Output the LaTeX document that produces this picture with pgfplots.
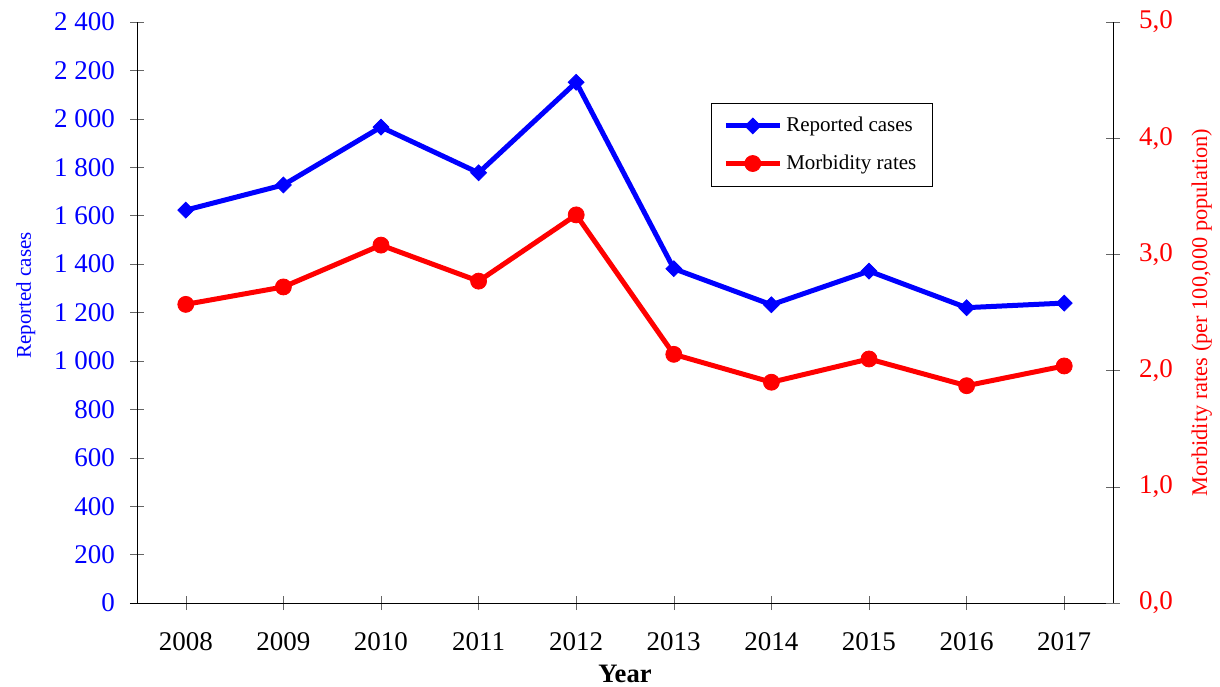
\documentclass[border=0pt]{standalone}
\usepackage{fontspec}
\setmainfont{Liberation Serif}
\usepackage{pgfplots}
\pgfplotsset{compat=1.18}

\definecolor{pblue}{RGB}{0,0,255}
\definecolor{pred}{RGB}{255,0,0}

\pgfplotstableread{
year cases rate
2008 1623 2.57
2009 1727 2.72
2010 1966 3.08
2011 1777 2.77
2012 2151 3.34
2013 1381 2.14
2014 1232 1.90
2015 1371 2.10
2016 1220 1.87
2017 1239 2.04
}\datatable

\begin{document}
\begin{tikzpicture}
\useasboundingbox (-68.5pt,-41.5pt) rectangle (541.5pt,301.5pt);
\begin{axis}[
    at={(0,0)}, anchor=south west,
    scale only axis,
    width=488pt, height=290.5pt,
    xmin=2007.5, xmax=2017.5,
    ymin=0, ymax=2400,
    xtick={2008,...,2017},
    ytick={0,200,...,2400},
    axis x line*=bottom,
    axis y line*=left,
    x axis line style={-, shorten <=-3.5pt, shorten >=-3.5pt},
    y axis line style={-},
    tick align=center,
    major tick length=7pt,
    tick style={black!60},
    minor tick num=0,
    /pgf/number format/assume math mode=true,
    /pgf/number format/1000 sep={\ },
    xticklabel={\pgfmathprintnumber[1000 sep={}]{\tick}},
    tick label style={font=\fontsize{13.5}{16}\selectfont},
    yticklabel style={pblue, xshift=-4pt},
    xticklabel style={yshift=-7.5pt},
    ylabel={Reported cases},
    ylabel style={pblue, font=\fontsize{10.5}{12}\selectfont, xshift=8.5pt, yshift=2.5pt},
    xlabel={Year},
    xlabel style={font=\fontsize{13.3}{15}\selectfont\bfseries, yshift=-0.5pt},
    legend style={at={(0.588,0.861)}, anchor=north west, draw=black,
        font=\fontsize{10.5}{12}\selectfont, row sep=6pt,
        inner xsep=6pt, inner ysep=5pt},
    legend cell align=left,
    legend image code/.code={\draw[#1] (0pt,0pt) -- (13.5pt,0pt) plot coordinates {(13.5pt,0pt)} -- (27pt,0pt);},
]
\addplot[pblue, line width=2.5pt, mark=square*, mark size=2.8pt,
    mark options={rotate=45, line width=0.4pt}] table[x=year, y=cases] {\datatable};
\addlegendentry{Reported cases}
\addlegendimage{pred, line width=2.5pt, mark=*, mark size=4pt, mark options={line width=0.4pt}}
\addlegendentry{Morbidity rates}
\end{axis}
\begin{axis}[
    at={(0,0)}, anchor=south west,
    scale only axis,
    width=488pt, height=290.5pt,
    xmin=2007.5, xmax=2017.5,
    ymin=0, ymax=5,
    axis x line=none,
    axis y line*=right,
    y axis line style={-},
    ytick={0,1,...,5},
    tick align=center,
    major tick length=7pt,
    tick style={black!60},
    /pgf/number format/assume math mode=true,
    /pgf/number format/.cd, fixed, fixed zerofill, precision=1, use comma,
    /pgfplots/.cd,
    yticklabel style={pred, xshift=6pt, font=\fontsize{13.5}{16}\selectfont},
    ylabel={Morbidity rates (per 100,000 population)},
    ylabel style={pred, font=\fontsize{11.2}{13}\selectfont, yshift=-2.5pt},
]
\addplot[pred, line width=2.5pt, mark=*, mark size=4pt, mark options={line width=0.4pt}] table[x=year, y=rate] {\datatable};
\end{axis}
\end{tikzpicture}
\end{document}
